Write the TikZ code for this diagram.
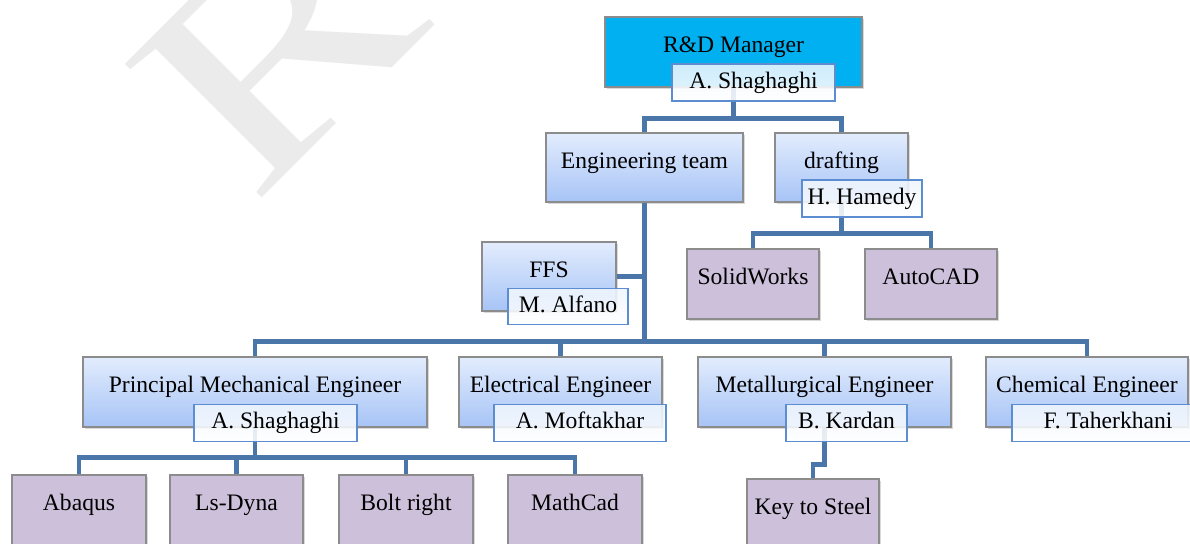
\documentclass[tikz,border=0pt]{standalone}
\usepackage{fontspec}
\setmainfont{Liberation Serif}
\usetikzlibrary{shadows}
\definecolor{boxtop}{HTML}{E2ECFD}
\definecolor{boxbot}{HTML}{A7C4F6}
\definecolor{boxbd}{HTML}{8C8C8C}
\definecolor{lilac}{HTML}{CCC0DA}
\definecolor{mgr}{HTML}{00B0F0}
\definecolor{wirec}{HTML}{4A76AA}
\definecolor{namebd}{HTML}{5B8DD0}
\definecolor{whotop}{HTML}{EEF5FD}

\begin{document}
\begin{tikzpicture}[x=0.5pt,y=-0.5pt,
  card/.style={draw=boxbd,line width=0.6pt,minimum height=35pt,inner sep=0pt,
    text height=8pt,text depth=7pt,font=\fontsize{11.8}{13}\selectfont,
    drop shadow={shadow xshift=1.2pt,shadow yshift=-1.2pt,opacity=0.3}},
  box/.style={card,top color=boxtop,bottom color=boxbot},
  tool/.style={card,fill=lilac},
  who/.style={draw=namebd,line width=0.7pt,top color=whotop,bottom color=white,
    fill opacity=0.88,text opacity=1,minimum height=18.5pt,inner sep=0pt,
    text height=8pt,text depth=2.5pt,font=\fontsize{11.8}{13}\selectfont},
  wire/.style={draw=wirec,line width=2.2pt}]
\useasboundingbox (0,0) rectangle (1190,544);
\clip (0,0) rectangle (1190,544);

% watermark
\node[rotate=45,text=gray!16,inner sep=0pt,font=\fontsize{146}{146}\selectfont] (wm) at (276,48) {\scalebox{1.33}[1]{R}};

% boxes
\node[card,fill=mgr,minimum width=128.5pt] (rd) at (733.5,52) {R\&D Manager};
\node[box,minimum width=98.5pt,minimum height=34.5pt] (eng) at (644.5,167.5) {Engineering team};
\node[box,minimum width=66.5pt,minimum height=34.5pt] (draft) at (841.5,167.5) {drafting};
\node[box,minimum width=67pt,minimum height=34.5pt] (ffs) at (549,276.5) {FFS};
\node[tool,minimum width=66pt] (sw) at (753,284) {SolidWorks};
\node[tool,minimum width=66pt] (acad) at (931,284) {AutoCAD};
\node[box,minimum width=172pt] (pme) at (255,392) {Principal Mechanical Engineer};
\node[box,minimum width=101.5pt] (ele) at (560.5,392) {Electrical Engineer};
\node[box,minimum width=126.5pt] (met) at (824.5,392) {Metallurgical Engineer};
\node[box,minimum width=101pt] (chem) at (1087,392) {Chemical Engineer};
\node[tool,minimum width=67pt] (abq) at (79,510) {Abaqus};
\node[tool,minimum width=66.5pt] (lsd) at (236.5,510) {Ls-Dyna};
\node[tool,minimum width=67pt] (bolt) at (406,510) {Bolt right};
\node[tool,minimum width=67pt] (mcad) at (575,510) {MathCad};
\node[tool,minimum width=66pt] (key) at (813,514) {Key to Steel};

% connectors
\draw[wire] (rd.south) -- ++(0,31) coordinate (j1) -| (eng.north);
\draw[wire] (j1) -| (draft.north);
\draw[wire] (eng.south) -- ++(0,139) coordinate (j2) -| (pme.north);
\foreach \b in {ele,met,chem}
  \draw[wire] (j2) -| (\b.north);
\draw[wire] (ffs.east) -- (ffs.east -| eng.south);
\draw[wire] (draft.south) -- ++(0,31) coordinate (j3) -| (sw.north);
\draw[wire] (j3) -| (acad.north);
\draw[wire] (pme.south) -- ++(0,30) coordinate (j4) -| (abq.north);
\foreach \b in {lsd,bolt,mcad}
  \draw[wire] (j4) -| (\b.north);
\draw[wire] (met.south) -- ++(0,37) -| (key.north);

% names
\node[who,minimum width=81.5pt] (rdn) at ([shift={(20,-5)}]rd.south) {A. Shaghaghi};
\node[who,minimum width=60pt] (draftn) at ([shift={(20.5,-4)}]draft.south) {H. Hamedy};
\node[who,minimum width=60pt,minimum height=18pt] (ffsn) at ([shift={(19,-5)}]ffs.south) {M. Alfano};
\node[who,minimum width=81.5pt] (pmen) at ([shift={(20.5,-4.5)}]pme.south) {A. Shaghaghi};
\node[who,minimum width=86pt] (elen) at ([shift={(19.5,-4.5)}]ele.south) {A. Moftakhar};
\node[who,minimum width=60.5pt] (metn) at ([shift={(22,-4.5)}]met.south) {B. Kardan};
\node[who,minimum width=96pt] (chemn) at ([shift={(21,-4.5)}]chem.south) {F. Taherkhani};
\end{tikzpicture}
\end{document}
